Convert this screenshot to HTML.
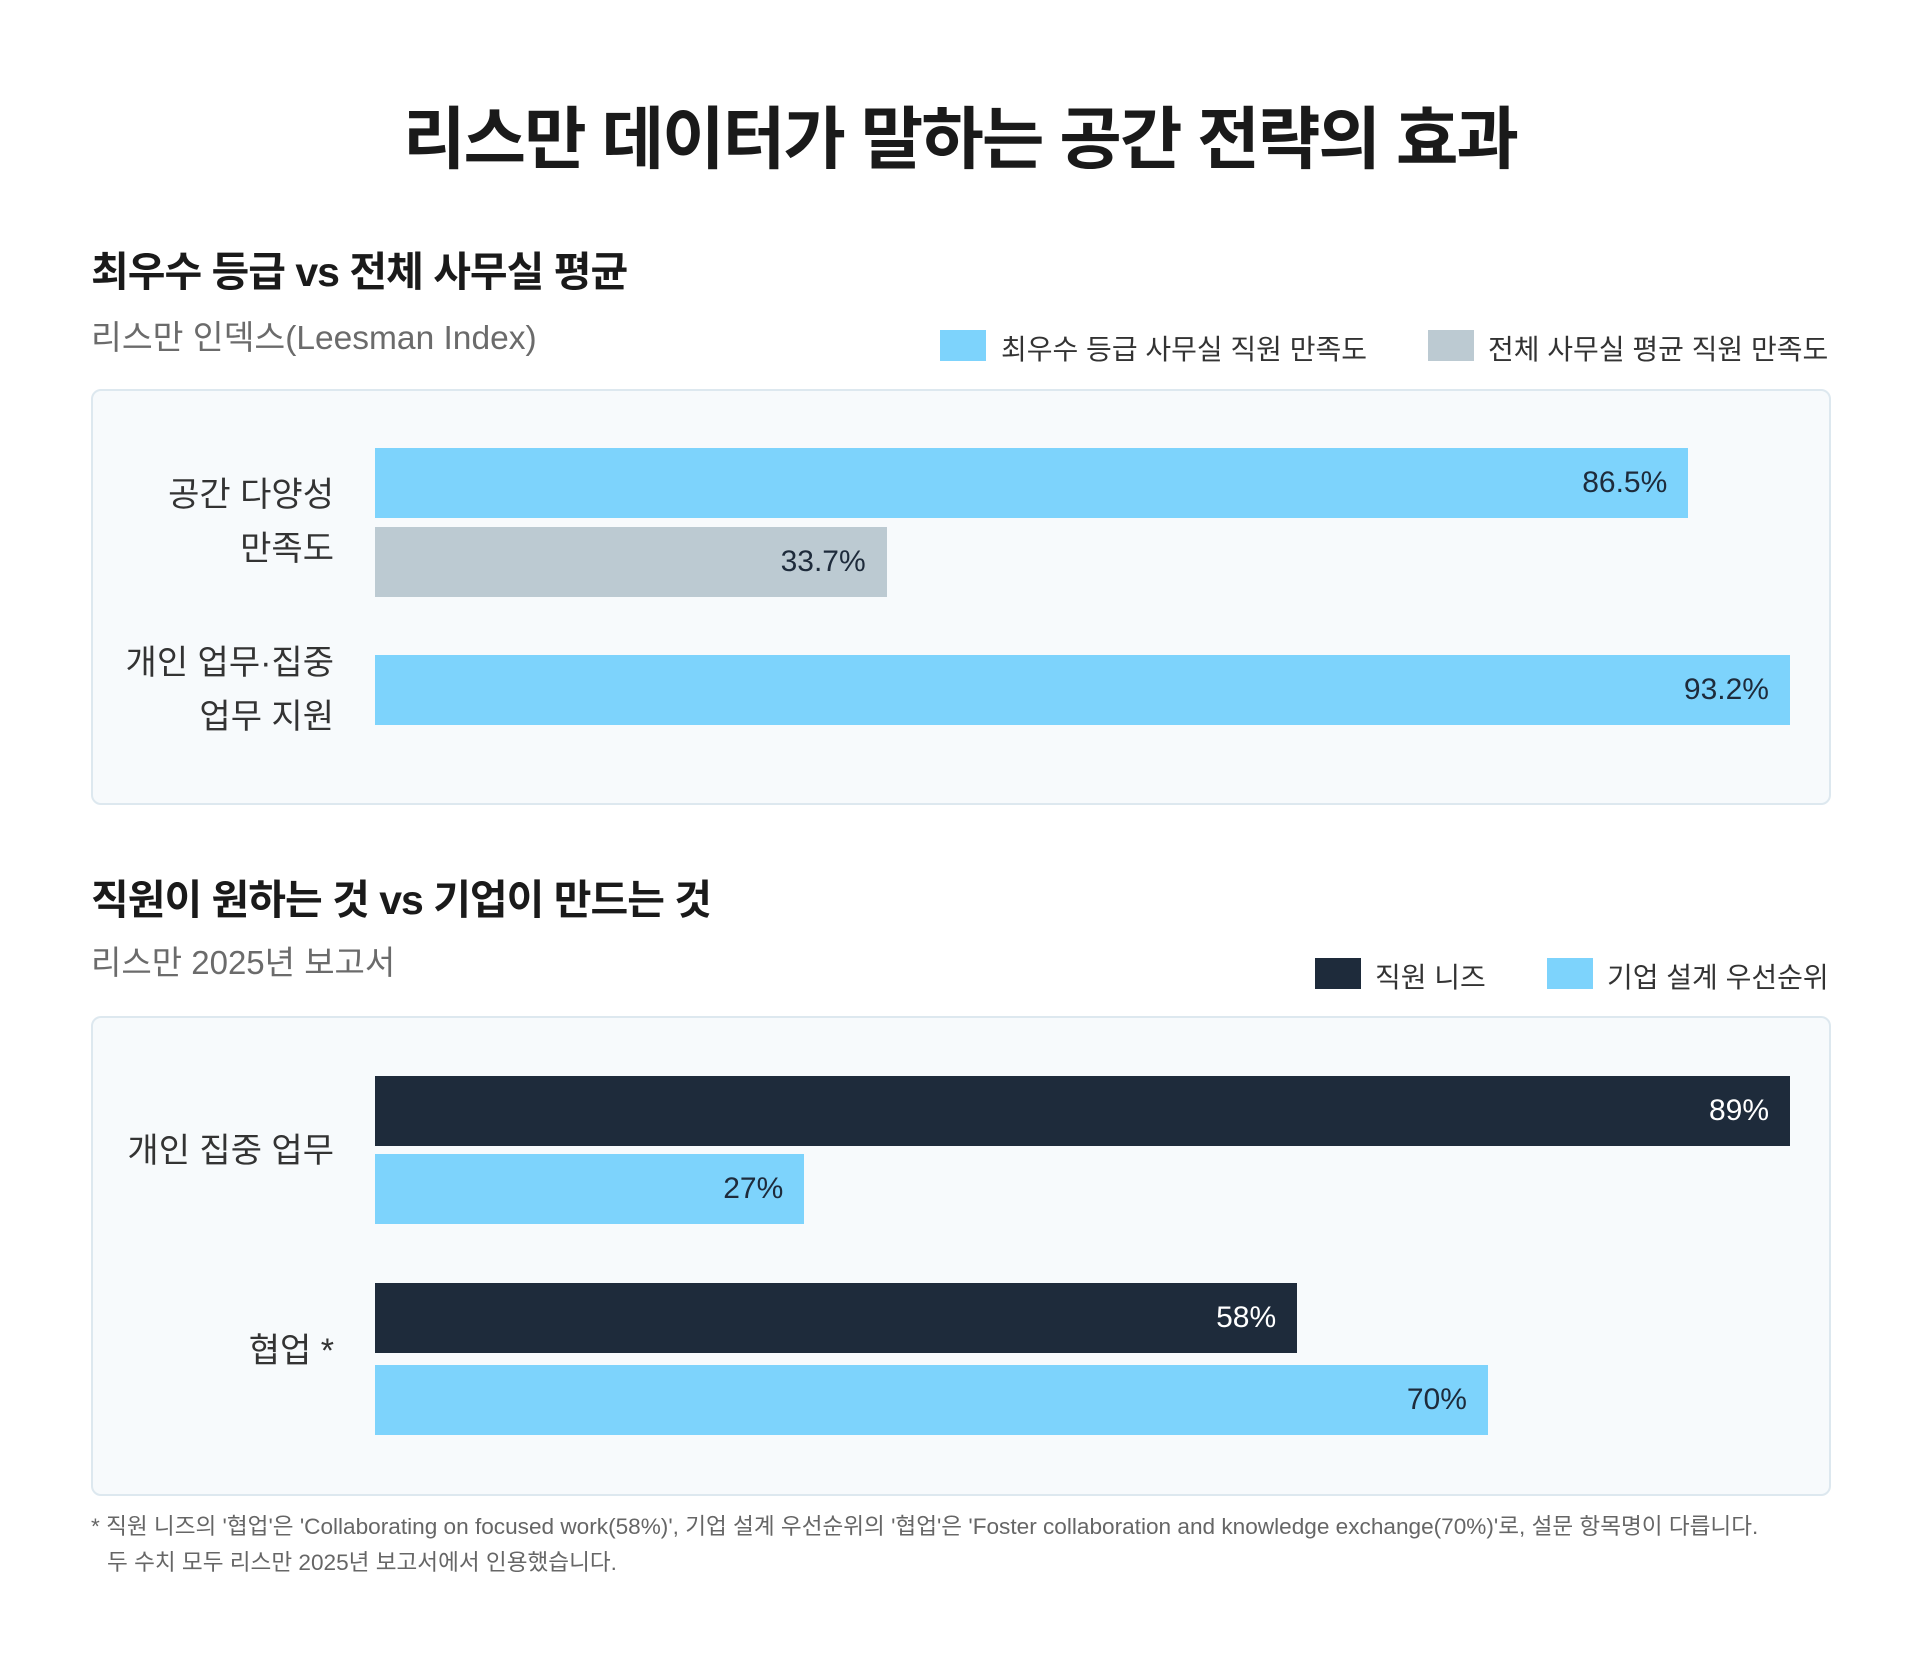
<!DOCTYPE html>
<html><head><meta charset="utf-8">
<style>
body{margin:0;width:1920px;height:1669px;background:#fff;font-family:"Liberation Sans","Noto Sans CJK KR",sans-serif;position:relative;overflow:hidden;color:#1a1a1a}
.a{position:absolute;white-space:nowrap}
.title{left:0;width:1920px;text-align:center;top:84px;font-size:68px;font-weight:700;letter-spacing:-2px}
.h2{left:91px;font-size:41px;font-weight:700;letter-spacing:-1px}
.sub{left:91px;font-size:33px;color:#6b6b6b}
.sw{width:46px;height:31px}
.lt{font-size:28px;color:#333}
.panel{left:91px;width:1736px;background:#f7fafc;border:2px solid #dde8ef;border-radius:10px}
.lab{font-size:34px;color:#333;text-align:right;right:1586px;line-height:54px}
.bar{position:absolute}
.val{position:absolute;font-size:30px;text-align:right}
.foot{left:91px;font-size:22.6px;color:#666}
</style></head><body>
<div class="a title">리스만 데이터가 말하는 공간 전략의 효과</div>

<div class="a h2" style="top:238px">최우수 등급 vs 전체 사무실 평균</div>
<div class="a sub" style="top:310px;font-size:33.5px">리스만 인덱스(Leesman Index)</div>
<div class="a sw" style="left:940px;top:330px;background:#7dd3fc"></div>
<div class="a lt" style="left:1001px;top:328px">최우수 등급 사무실 직원 만족도</div>
<div class="a sw" style="left:1428px;top:330px;background:#bccad2"></div>
<div class="a lt" style="left:1488px;top:328px">전체 사무실 평균 직원 만족도</div>
<div class="a panel" style="top:389px;height:412px"></div>
<div class="a lab" style="top:468px">공간 다양성<br>만족도</div>
<div class="a lab" style="top:636px">개인 업무·집중<br>업무 지원</div>
<div id="c1"></div>

<div class="a h2" style="top:866px">직원이 원하는 것 vs 기업이 만드는 것</div>
<div class="a sub" style="top:936px">리스만 2025년 보고서</div>
<div class="a sw" style="left:1315px;top:958px;background:#1e2b3b"></div>
<div class="a lt" style="left:1375px;top:956px">직원 니즈</div>
<div class="a sw" style="left:1547px;top:958px;background:#7dd3fc"></div>
<div class="a lt" style="left:1607px;top:956px">기업 설계 우선순위</div>
<div class="a panel" style="top:1016px;height:476px"></div>
<div class="a lab" style="top:1124px">개인 집중 업무</div>
<div class="a lab" style="top:1324px">협업 *</div>
<div id="c2"></div>

<div class="a foot" style="top:1508px">* 직원 니즈의 '협업'은 'Collaborating on focused work(58%)', 기업 설계 우선순위의 '협업'은 'Foster collaboration and knowledge exchange(70%)'로, 설문 항목명이 다릅니다.</div>
<div class="a foot" style="top:1544px;left:107px">두 수치 모두 리스만 2025년 보고서에서 인용했습니다.</div>

<script>
const c1Values = [86.5, 33.7, 93.2];
const c1Labels = ["86.5%", "33.7%", "93.2%"];
const c1Series = ["top", "avg", "top"];
const c2Values = [89, 27, 58, 70];
const c2Labels = ["89%", "27%", "58%", "70%"];
const c2Series = ["needs", "design", "needs", "design"];
const colors = {top:"#7dd3fc", avg:"#bccad2", needs:"#1e2b3b", design:"#7dd3fc"};
const textColors = {top:"#1e2b3b", avg:"#1e2b3b", needs:"#ffffff", design:"#1e2b3b"};
function draw(id, vals, labs, ser, tops, h, name){
  const c = document.getElementById(id);
  const max = Math.max(...vals);
  const x0 = 375, w = 1415;
  const xs = v => w * v / max;
  vals.forEach((v,i)=>{
    const b = document.createElement('div');
    b.className='bar';
    
    
    b.style.left=x0+'px'; b.style.top=tops[i]+'px'; b.style.height=h+'px';
    b.style.width=xs(v)+'px'; b.style.background=colors[ser[i]];
    c.appendChild(b);
    const t = document.createElement('div');
    t.className='val';
    
    
    t.textContent=labs[i];
    t.style.right=(1920-(x0+xs(v))+21)+'px';
    t.style.top=(tops[i]+h/2-17)+'px';
    t.style.color=textColors[ser[i]];
    c.appendChild(t);
  });
}
draw('c1', c1Values, c1Labels, c1Series, [448,527,655], 70, 'chart1');
draw('c2', c2Values, c2Labels, c2Series, [1076,1154,1283,1365], 70, 'chart2');
</script>
</body></html>
